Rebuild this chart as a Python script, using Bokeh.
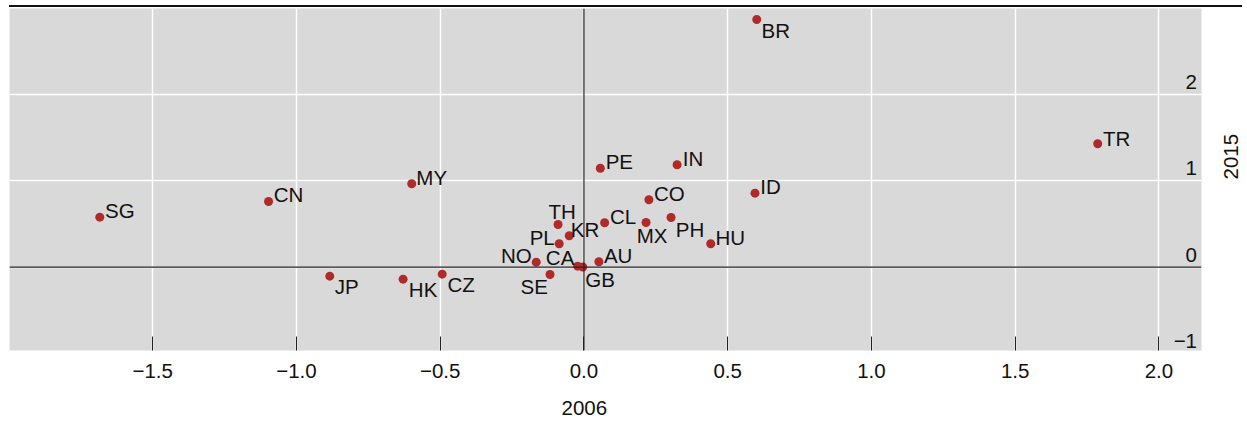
import math
from bokeh.plotting import figure
from bokeh.models import Range1d, FixedTicker, Span, Label, Div, ColumnDataSource, Title
from bokeh.layouts import column
from bokeh.core.properties import value
from bokeh.embed import file_html
from bokeh.resources import INLINE

# ---- data ----
countries = ["SG", "CN", "MY", "JP", "HK", "CZ", "BR", "TR", "PE", "IN", "ID", "CO",
             "TH", "CL", "MX", "PH", "KR", "PL", "HU", "NO", "CA", "GB", "AU", "SE"]
x_2006 = [-1.684, -1.097, -0.599, -0.884, -0.629, -0.493, 0.601, 1.787, 0.057, 0.324, 0.595, 0.226,
          -0.090, 0.072, 0.216, 0.303, -0.051, -0.086, 0.441, -0.166, -0.022, -0.004, 0.052, -0.118]
y_2015 = [0.579, 0.761, 0.966, -0.104, -0.139, -0.081, 2.869, 1.429, 1.146, 1.186, 0.857, 0.781,
          0.494, 0.514, 0.518, 0.576, 0.364, 0.271, 0.271, 0.058, 0.012, 0.002, 0.063, -0.085]

x_ticks = [-1.5, -1.0, -0.5, 0.0, 0.5, 1.0, 1.5, 2.0]
x_tick_labels = ["\u22121.5", "\u22121.0", "\u22120.5", "0.0", "0.5", "1.0", "1.5", "2.0"]
y_ticks = [-1, 0, 1, 2]
y_tick_labels = ["\u22121", "0", "1", "2"]
x_title = "2006"
y_title = "2015"

# label placement offsets (screen px) - style only
label_dx = [20, 20, 20, 17, 20, 19, 19, 19, 19, 16, 15.5, 20.5,
            4, 18.5, 6, 19, 15.7, -17, 19.6, -19.8, -17.5, 17.3, 19.3, -15.8]
label_dy = [-7, -7, -6, 10, 10, 10, 11, -5, -7, -6, -7, -6,
            -13, -6, 13, 11.7, -6.3, -6.3, -6.3, -6.2, -8.7, 12, -5.8, 11.5]

FONT = "Liberation Sans"
FS = "20.5px"
TXT = "#111111"

src = ColumnDataSource(dict(x=x_2006, y=y_2015, name=countries, dx=label_dx, dy=label_dy))

x0, x1 = -1.998, 2.148
y0, y1 = -0.965, 2.996

p = figure(width=1247, height=413, output_backend="svg", toolbar_location=None,
           x_range=Range1d(x0, x1), y_range=Range1d(y0, y1),
           x_axis_location="below", y_axis_location="right",
           min_border_left=9, min_border_top=0, min_border_right=45, min_border_bottom=71)
p.background_fill_color = "#d9d9d9"
p.border_fill_color = "white"
p.outline_line_color = None

# grids
p.xgrid.ticker = FixedTicker(ticks=x_ticks)
p.ygrid.ticker = FixedTicker(ticks=y_ticks)
for g in (p.xgrid[0], p.ygrid[0]):
    g.grid_line_color = "white"
    g.grid_line_width = 1.5

# x axis
xa = p.xaxis[0]
xa.ticker = FixedTicker(ticks=x_ticks)
xa.major_label_overrides = {t: l for t, l in zip(x_ticks, x_tick_labels)}
xa.axis_line_color = None
xa.major_tick_in = 14
xa.major_tick_out = 0
xa.major_tick_line_color = "#222222"
xa.major_tick_line_width = 1
xa.minor_tick_line_color = None
xa.major_label_standoff = 13
xa.major_label_text_font = FONT
xa.major_label_text_font_size = FS
xa.major_label_text_color = TXT
# blank spacer label to push the title lower
xa.axis_label = " "
xa.axis_label_text_font_size = "1px"
xa.axis_label_standoff = 16

# x title below the axis, horizontally placed like the reference
p.add_layout(Title(text=x_title, align="left", offset=552, standoff=0, vertical_align="top",
                   text_font=FONT, text_font_size=FS, text_font_style="normal",
                   text_color=TXT), "below")

# right y axis (title only)
ya = p.yaxis[0]
ya.ticker = FixedTicker(ticks=[])
ya.axis_line_color = None
ya.major_tick_line_color = None
ya.minor_tick_line_color = None
ya.major_label_standoff = 0
ya.axis_label = y_title
ya.axis_label_orientation = math.pi / 2
ya.axis_label_text_font = FONT
ya.axis_label_text_font_size = FS
ya.axis_label_text_font_style = "normal"
ya.axis_label_text_color = TXT
ya.axis_label_standoff = 29

# zero lines
p.add_layout(Span(location=0, dimension="height", line_color="#222222", line_width=1.2))
p.add_layout(Span(location=0, dimension="width", line_color="#222222", line_width=1.2))

# y tick labels inside panel at right
for t, l in zip(y_ticks, y_tick_labels):
    p.add_layout(Label(x=x1, y=t, text=l, x_offset=-4.5, y_offset=12.5, text_align="right",
                       text_baseline="alphabetic", text_font=FONT, text_font_size=FS,
                       text_color=TXT))

# points
p.scatter("x", "y", source=src, size=9, fill_color="#b02a2a", line_color=None)

# point labels
p.text("x", "y", text="name", source=src, x_offset="dx", y_offset="dy",
       text_align="center", text_baseline="middle", text_font=value(FONT),
       text_font_size=FS, text_color=TXT)

topline = Div(text="", width=1233, height=2, margin=(5, 0, 1, 9),
              styles={"background-color": "#111111"})

layout = column(topline, p, spacing=0)
open("out.html", "w").write(file_html(layout, INLINE))
